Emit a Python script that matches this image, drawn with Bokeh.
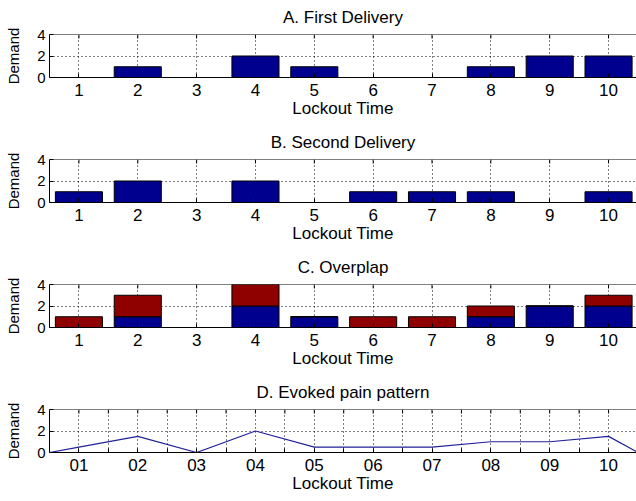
import math

from bokeh.plotting import figure
from bokeh.layouts import column
from bokeh.models import Range1d, FixedTicker, Span
from bokeh.embed import file_html
from bokeh.resources import INLINE

# Lockout time slots and demand counts
lockout = [1, 2, 3, 4, 5, 6, 7, 8, 9, 10]
first_delivery = [0, 1, 0, 2, 1, 0, 0, 1, 2, 2]
second_delivery = [1, 2, 0, 2, 0, 1, 1, 1, 0, 1]

# Evoked pain pattern (line)
pain_x = [0.5, 1, 2, 3, 4, 5, 6, 7, 8, 9, 10, 10.5]
pain_y = [0, 0.5, 1.5, 0, 2, 0.5, 0.5, 0.5, 1, 1, 1.5, 0]
pain_ticks = [1, 2, 3, 4, 5, 6, 7, 8, 9, 10]
pain_tick_labels = ["01", "02", "03", "04", "05", "06", "07", "08", "09", "10"]
pain_minor_ticks = [1.5, 2.5, 3.5, 4.5, 5.5, 6.5, 7.5, 8.5, 9.5]

y_ticks = [0, 2, 4]
y_max = 4

BLUE = "#00008f"
RED = "#8f0000"
FONT = "Liberation Sans"


def make_panel(title, x_ticks, minor=None, labels=None):
    p = figure(width=636, height=125, x_range=Range1d(0.5, 10.475),
               y_range=Range1d(0, y_max), output_backend="svg",
               toolbar_location=None, min_border_left=49,
               min_border_right=0, min_border_top=34, min_border_bottom=48)
    p.outline_line_color = None
    p.background_fill_color = "white"
    p.border_fill_color = "white"

    p.title.text = title
    p.title.align = "center"
    p.title.vertical_align = "middle"
    p.title.text_font = FONT
    p.title.text_font_size = "17px"
    p.title.text_font_style = "normal"
    p.title.text_color = "black"
    p.title.standoff = 13

    ticker = FixedTicker(ticks=x_ticks, minor_ticks=minor or [])
    xa = p.xaxis[0]
    xa.ticker = ticker
    xa.axis_label = "Lockout Time"
    xa.axis_label_text_font = FONT
    xa.axis_label_text_font_size = "17px"
    xa.axis_label_text_font_style = "normal"
    xa.axis_label_text_color = "black"
    xa.axis_label_standoff = 0
    xa.major_label_text_font = FONT
    xa.major_label_text_font_size = "17px"
    xa.major_label_text_color = "black"
    xa.major_label_standoff = 6
    xa.major_tick_in = 4
    xa.major_tick_out = 0
    xa.minor_tick_in = 4 if minor else 0
    xa.minor_tick_out = 0
    xa.axis_line_color = "black"
    xa.major_tick_line_color = "black"
    xa.minor_tick_line_color = "black"
    if labels:
        xa.major_label_overrides = dict(zip(x_ticks, labels))

    ya = p.yaxis[0]
    ya.ticker = FixedTicker(ticks=y_ticks)
    ya.axis_label = "Demand"
    ya.axis_label_text_font = FONT
    ya.axis_label_text_font_size = "15px"
    ya.axis_label_text_font_style = "normal"
    ya.axis_label_text_color = "black"
    ya.axis_label_standoff = 12
    ya.major_label_text_font = FONT
    ya.major_label_text_font_size = "15px"
    ya.major_label_text_color = "black"
    ya.major_label_standoff = 4
    ya.major_tick_in = 4
    ya.major_tick_out = 0
    ya.minor_tick_in = 0
    ya.minor_tick_out = 0
    ya.axis_line_color = "black"
    ya.major_tick_line_color = "black"

    # top edge of the axes box, with inward ticks
    p.add_layout(Span(location=y_max, dimension="width",
                      line_color="black", line_width=1))
    p.ray(x=x_ticks, y=y_max, length=4, angle=-math.pi / 2,
          length_units="screen", line_color="black", line_width=1)
    if minor:
        p.ray(x=minor, y=y_max, length=4, angle=-math.pi / 2,
              length_units="screen", line_color="black", line_width=1)

    p.xgrid.ticker = ticker
    p.ygrid.ticker = FixedTicker(ticks=y_ticks)
    for g in (p.xgrid[0], p.ygrid[0]):
        g.grid_line_color = "black"
        g.grid_line_alpha = 1.0
        g.grid_line_dash = "1 3"
    if minor:
        p.xgrid.minor_grid_line_color = "black"
        p.xgrid.minor_grid_line_alpha = 1.0
        p.xgrid.minor_grid_line_dash = "1 3"
    return p


pa = make_panel("A. First Delivery", lockout)
pa.vbar(x=lockout, top=first_delivery, width=0.8, fill_color=BLUE,
        line_color="black")

pb = make_panel("B. Second Delivery", lockout)
pb.vbar(x=lockout, top=second_delivery, width=0.8, fill_color=BLUE,
        line_color="black")

pc = make_panel("C. Overplap", lockout)
stack_top = [a + b for a, b in zip(first_delivery, second_delivery)]
pc.vbar(x=lockout, bottom=0, top=first_delivery, width=0.8,
        fill_color=BLUE, line_color="black")
pc.vbar(x=lockout, bottom=first_delivery, top=stack_top, width=0.8,
        fill_color=RED, line_color="black")

pd = make_panel("D. Evoked pain pattern", pain_ticks, minor=pain_minor_ticks,
                labels=pain_tick_labels)
pd.line(pain_x, pain_y, line_color="#22229a", line_width=1.2)

layout = column(pa, pb, pc, pd, spacing=0)
open("out.html", "w").write(file_html(layout, INLINE))
